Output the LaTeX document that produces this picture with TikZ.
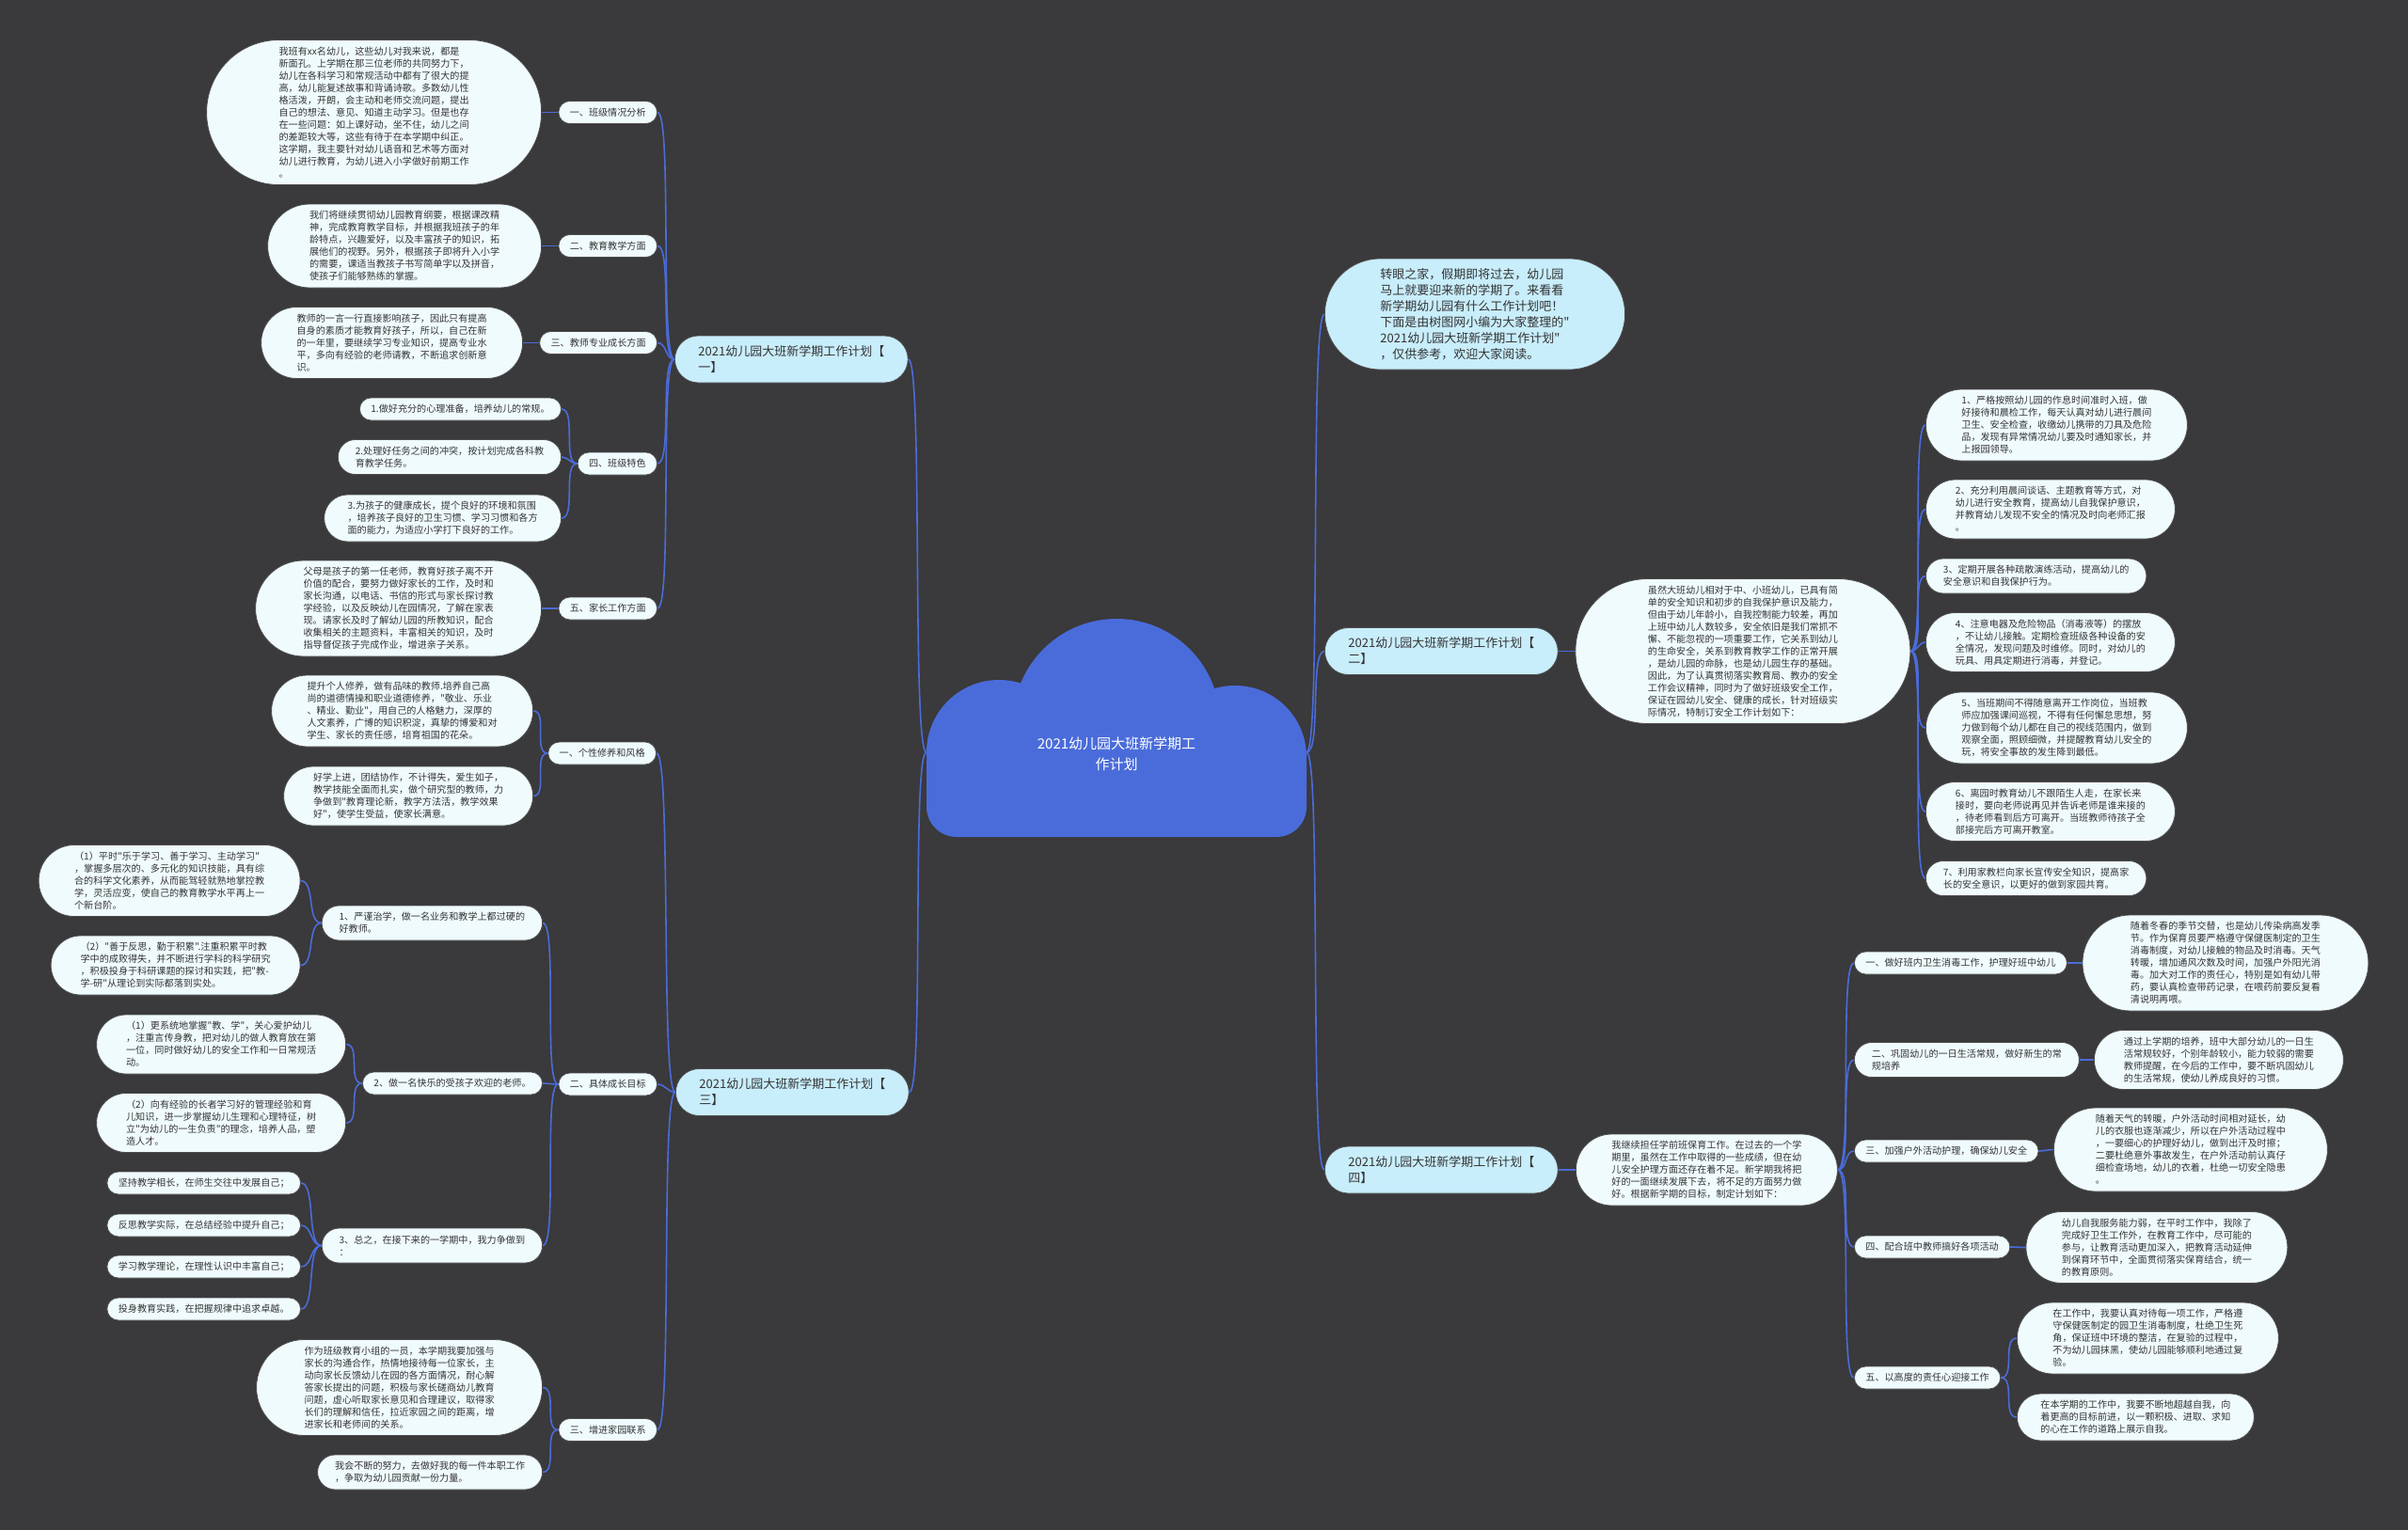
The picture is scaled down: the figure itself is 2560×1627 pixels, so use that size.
\documentclass[tikz,border=0pt]{standalone}
\usepackage{fontspec}
\newfontfamily\cjk{Noto Sans CJK SC}
\definecolor{bgdark}{HTML}{3A393B}
\definecolor{leafcol}{HTML}{F0FBFE}
\definecolor{headcol}{HTML}{C8EDFB}
\definecolor{linkblue}{HTML}{4A6CDA}
\definecolor{inkgray}{HTML}{333333}

\begin{document}
\begin{tikzpicture}[x=1pt,y=-1pt,
  % #1 = number of text lines
  leafbox/.style={rectangle, fill=leafcol, draw=black!70, line width=0.8pt,
    minimum height=13*#1+11, inner xsep=(13*#1+11)/2, inner ysep=0pt,
    rounded corners=(13*#1+11)/2, align=left, text=inkgray,
    font=\cjk\fontsize{10.1}{13}\selectfont},
  headbox/.style={rectangle, fill=headcol, draw=black!70, line width=0.8pt,
    minimum height=17*#1+16, inner xsep=(17*#1+16)/2, inner ysep=0pt,
    rounded corners=(17*#1+16)/2, align=left, text=inkgray,
    font=\cjk\fontsize{13}{17}\selectfont},
  lk/.style={draw=linkblue, line width=1.6pt},
  cl/.style={out=180, in=0, max distance=16pt},
  cr/.style={out=0, in=180, max distance=16pt}]
  \fill[bgdark] (0,0) rectangle (2560,1627);
  \useasboundingbox (0,0) rectangle (2560,1627);

  % root cloud
  \fill[linkblue] (1187,768) circle (110pt) (1062,800) circle (77pt) (1313,805) circle (76pt);
  \fill[linkblue, rounded corners=32pt] (985,780) rectangle (1389,890);
  \node[text=white, align=center, font=\cjk\fontsize{15}{22}\selectfont] (root) at (1187,802) {2021幼儿园大班新学期工\\作计划};
  \coordinate (rootL) at (985,800);
  \coordinate (rootR) at (1389,800);

  % plan one
  \node[headbox=2, anchor=west] (p1) at (717,382) {2021幼儿园大班新学期工作计划【\\一】};
  \node[leafbox=1, anchor=east] (a1) at (699,119.5) {一、班级情况分析};
  \node[leafbox=11, anchor=east] (a1x) at (576,119.5) {我班有xx名幼儿，这些幼儿对我来说，都是\\新面孔。上学期在那三位老师的共同努力下，\\幼儿在各科学习和常规活动中都有了很大的提\\高，幼儿能复述故事和背诵诗歌。多数幼儿性\\格活泼，开朗，会主动和老师交流问题，提出\\自己的想法、意见、知道主动学习。但是也存\\在一些问题：如上课好动，坐不住，幼儿之间\\的差距较大等，这些有待于在本学期中纠正。\\这学期，我主要针对幼儿语音和艺术等方面对\\幼儿进行教育，为幼儿进入小学做好前期工作\\。};
  \node[leafbox=1, anchor=east] (a2) at (699,261.5) {二、教育教学方面};
  \node[leafbox=6, anchor=east] (a2x) at (576,261.5) {我们将继续贯彻幼儿园教育纲要，根据课改精\\神，完成教育教学目标，并根据我班孩子的年\\龄特点，兴趣爱好，以及丰富孩子的知识，拓\\展他们的视野。另外，根据孩子即将升入小学\\的需要，课适当教孩子书写简单字以及拼音，\\使孩子们能够熟练的掌握。};
  \node[leafbox=1, anchor=east] (a3) at (699,364.5) {三、教师专业成长方面};
  \node[leafbox=5, anchor=east] (a3x) at (556,364.5) {教师的一言一行直接影响孩子，因此只有提高\\自身的素质才能教育好孩子，所以，自己在新\\的一年里，要继续学习专业知识，提高专业水\\平，多向有经验的老师请教，不断追求创新意\\识。};
  \node[leafbox=1, anchor=east] (a4) at (699,493) {四、班级特色};
  \node[leafbox=1, anchor=east] (a41) at (597,435) {1.做好充分的心理准备，培养幼儿的常规。};
  \node[leafbox=2, anchor=east] (a42) at (597,486) {2.处理好任务之间的冲突，按计划完成各科教\\育教学任务。};
  \node[leafbox=3, anchor=east] (a43) at (597,551) {3.为孩子的健康成长，提个良好的环境和氛围\\，培养孩子良好的卫生习惯、学习习惯和各方\\面的能力，为适应小学打下良好的工作。};
  \node[leafbox=1, anchor=east] (a5) at (699,647) {五、家长工作方面};
  \node[leafbox=7, anchor=east] (a5x) at (576,647) {父母是孩子的第一任老师，教育好孩子离不开\\价值的配合，要努力做好家长的工作，及时和\\家长沟通，以电话、书信的形式与家长探讨教\\学经验，以及反映幼儿在园情况，了解在家表\\现。请家长及时了解幼儿园的所教知识，配合\\收集相关的主题资料，丰富相关的知识，及时\\指导督促孩子完成作业，增进亲子关系。};

  % plan three
  \node[headbox=2, anchor=west] (p3) at (718,1161.5) {2021幼儿园大班新学期工作计划【\\三】};
  \node[leafbox=1, anchor=east] (b1) at (698,801) {一、个性修养和风格};
  \node[leafbox=5, anchor=east] (b11) at (567,756) {提升个人修养，做有品味的教师.培养自己高\\尚的道德情操和职业道德修养，"敬业、乐业\\、精业、勤业"，用自己的人格魅力，深厚的\\人文素养，广博的知识积淀，真挚的博爱和对\\学生、家长的责任感，培育祖国的花朵。};
  \node[leafbox=4, anchor=east] (b12) at (567,846.5) {好学上进，团结协作，不计得失，爱生如子，\\教学技能全面而扎实，做个研究型的教师，力\\争做到"教育理论新，教学方法活，教学效果\\好"，使学生受益，使家长满意。};
  \node[leafbox=1, anchor=east] (b2) at (699,1153) {二、具体成长目标};
  \node[leafbox=2, anchor=east] (b21) at (577,981.5) {1、严谨治学，做一名业务和教学上都过硬的\\好教师。};
  \node[leafbox=5, anchor=east] (b211) at (319.5,936.5) {（1）平时"乐于学习、善于学习、主动学习"\\，掌握多层次的、多元化的知识技能，具有综\\合的科学文化素养，从而能驾轻就熟地掌控教\\学，灵活应变，使自己的教育教学水平再上一\\个新台阶。};
  \node[leafbox=4, anchor=east] (b212) at (319.5,1026.5) {（2）"善于反思，勤于积累".注重积累平时教\\学中的成败得失，并不断进行学科的科学研究\\，积极投身于科研课题的探讨和实践，把"教-\\学-研"从理论到实际都落到实处。};
  \node[leafbox=1, anchor=east] (b22) at (577,1152) {2、做一名快乐的受孩子欢迎的老师。};
  \node[leafbox=4, anchor=east] (b221) at (368,1110.5) {（1）更系统地掌握"教、学"，关心爱护幼儿\\，注重言传身教，把对幼儿的做人教育放在第\\一位，同时做好幼儿的安全工作和一日常规活\\动。};
  \node[leafbox=4, anchor=east] (b222) at (368,1194) {（2）向有经验的长者学习好的管理经验和育\\儿知识，进一步掌握幼儿生理和心理特征，树\\立"为幼儿的一生负责"的理念，培养人品，塑\\造人才。};
  \node[leafbox=2, anchor=east] (b23) at (577,1324.5) {3、总之，在接下来的一学期中，我力争做到\\：};
  \node[leafbox=1, anchor=east] (b231) at (320,1258) {坚持教学相长，在师生交往中发展自己；};
  \node[leafbox=1, anchor=east] (b232) at (320,1303) {反思教学实际，在总结经验中提升自己；};
  \node[leafbox=1, anchor=east] (b233) at (320,1347) {学习教学理论，在理性认识中丰富自己；};
  \node[leafbox=1, anchor=east] (b234) at (320,1392) {投身教育实践，在把握规律中追求卓越。};
  \node[leafbox=1, anchor=east] (b3) at (699,1520.5) {三、增进家园联系};
  \node[leafbox=7, anchor=east] (b31) at (577,1475.5) {作为班级教育小组的一员，本学期我要加强与\\家长的沟通合作，热情地接待每一位家长，主\\动向家长反馈幼儿在园的各方面情况，耐心解\\答家长提出的问题，积极与家长磋商幼儿教育\\问题，虚心听取家长意见和合理建议，取得家\\长们的理解和信任，拉近家园之间的距离，增\\进家长和老师间的关系。};
  \node[leafbox=2, anchor=east] (b32) at (577,1565.5) {我会不断的努力，去做好我的每一件本职工作\\，争取为幼儿园贡献一份力量。};

  % intro
  \node[headbox=6, anchor=west] (i0) at (1408,334) {转眼之家，假期即将过去，幼儿园\\马上就要迎来新的学期了。来看看\\新学期幼儿园有什么工作计划吧！\\下面是由树图网小编为大家整理的"\\2021幼儿园大班新学期工作计划"\\，仅供参考，欢迎大家阅读。};

  % plan two
  \node[headbox=2, anchor=west] (p2) at (1408,692.5) {2021幼儿园大班新学期工作计划【\\二】};
  \node[leafbox=11, anchor=west] (c0) at (1674.5,692.5) {虽然大班幼儿相对于中、小班幼儿，已具有简\\单的安全知识和初步的自我保护意识及能力，\\但由于幼儿年龄小，自我控制能力较差，再加\\上班中幼儿人数较多，安全依旧是我们常抓不\\懈、不能忽视的一项重要工作，它关系到幼儿\\的生命安全，关系到教育教学工作的正常开展\\，是幼儿园的命脉，也是幼儿园生存的基础。\\因此，为了认真贯彻落实教育局、教办的安全\\工作会议精神，同时为了做好班级安全工作，\\保证在园幼儿安全、健康的成长，针对班级实\\际情况，特制订安全工作计划如下：};
  \node[leafbox=5, anchor=west] (c01) at (2047,452) {1、严格按照幼儿园的作息时间准时入班，做\\好接待和晨检工作，每天认真对幼儿进行晨间\\卫生、安全检查，收缴幼儿携带的刀具及危险\\品，发现有异常情况幼儿要及时通知家长，并\\上报园领导。};
  \node[leafbox=4, anchor=west] (c02) at (2047,541.5) {2、充分利用晨间谈话、主题教育等方式，对\\幼儿进行安全教育，提高幼儿自我保护意识，\\并教育幼儿发现不安全的情况及时向老师汇报\\。};
  \node[leafbox=2, anchor=west] (c03) at (2047,612.5) {3、定期开展各种疏散演练活动，提高幼儿的\\安全意识和自我保护行为。};
  \node[leafbox=4, anchor=west] (c04) at (2047,683) {4、注意电器及危险物品（消毒液等）的摆放\\，不让幼儿接触。定期检查班级各种设备的安\\全情况，发现问题及时维修。同时，对幼儿的\\玩具、用具定期进行消毒，并登记。};
  \node[leafbox=5, anchor=west] (c05) at (2047,774) {5、当班期间不得随意离开工作岗位，当班教\\师应加强课间巡视，不得有任何懈怠思想，努\\力做到每个幼儿都在自己的视线范围内，做到\\观察全面，照顾细微，并提醒教育幼儿安全的\\玩，将安全事故的发生降到最低。};
  \node[leafbox=4, anchor=west] (c06) at (2047,863) {6、离园时教育幼儿不跟陌生人走，在家长来\\接时，要向老师说再见并告诉老师是谁来接的\\，待老师看到后方可离开。当班教师待孩子全\\部接完后方可离开教室。};
  \node[leafbox=2, anchor=west] (c07) at (2047,934) {7、利用家教栏向家长宣传安全知识，提高家\\长的安全意识，以更好的做到家园共育。};

  % plan four
  \node[headbox=2, anchor=west] (p4) at (1408,1244) {2021幼儿园大班新学期工作计划【\\四】};
  \node[leafbox=5, anchor=west] (d0) at (1675,1244) {我继续担任学前班保育工作。在过去的一个学\\期里，虽然在工作中取得的一些成绩，但在幼\\儿安全护理方面还存在着不足。新学期我将把\\好的一面继续发展下去，将不足的方面努力做\\好。根据新学期的目标，制定计划如下：};
  \node[leafbox=1, anchor=west] (d1) at (1971,1024) {一、做好班内卫生消毒工作，护理好班中幼儿};
  \node[leafbox=7, anchor=west] (d1x) at (2213.5,1024) {随着冬春的季节交替，也是幼儿传染病高发季\\节。作为保育员要严格遵守保健医制定的卫生\\消毒制度，对幼儿接触的物品及时消毒。天气\\转暖，增加通风次数及时间，加强户外阳光消\\毒。加大对工作的责任心，特别是如有幼儿带\\药，要认真检查带药记录，在喂药前要反复看\\清说明再喂。};
  \node[leafbox=2, anchor=west] (d2) at (1971,1127) {二、巩固幼儿的一日生活常规，做好新生的常\\规培养};
  \node[leafbox=4, anchor=west] (d2x) at (2226,1127) {通过上学期的培养，班中大部分幼儿的一日生\\活常规较好，个别年龄较小，能力较弱的需要\\教师提醒，在今后的工作中，要不断巩固幼儿\\的生活常规，使幼儿养成良好的习惯。};
  \node[leafbox=1, anchor=west] (d3) at (1971,1224) {三、加强户外活动护理，确保幼儿安全};
  \node[leafbox=6, anchor=west] (d3x) at (2183,1222.5) {随着天气的转暖，户外活动时间相对延长，幼\\儿的衣服也逐渐减少，所以在户外活动过程中\\，一要细心的护理好幼儿，做到出汗及时擦；\\二要杜绝意外事故发生，在户外活动前认真仔\\细检查场地，幼儿的衣着，杜绝一切安全隐患\\。};
  \node[leafbox=1, anchor=west] (d4) at (1971,1326) {四、配合班中教师搞好各项活动};
  \node[leafbox=5, anchor=west] (d4x) at (2153.5,1326.5) {幼儿自我服务能力弱，在平时工作中，我除了\\完成好卫生工作外，在教育工作中，尽可能的\\参与，让教育活动更加深入，把教育活动延伸\\到保育环节中，全面贯彻落实保育结合，统一\\的教育原则。};
  \node[leafbox=1, anchor=west] (d5) at (1971,1465) {五、以高度的责任心迎接工作};
  \node[leafbox=5, anchor=west] (d51) at (2144,1423) {在工作中，我要认真对待每一项工作，严格遵\\守保健医制定的园卫生消毒制度，杜绝卫生死\\角，保证班中环境的整洁，在复验的过程中，\\不为幼儿园抹黑，使幼儿园能够顺利地通过复\\验。};
  \node[leafbox=3, anchor=west] (d52) at (2144,1507) {在本学期的工作中，我要不断地超越自我，向\\着更高的目标前进，以一颗积极、进取、求知\\的心在工作的道路上展示自我。};

  % connectors
  \draw[lk] (rootL) to[cl] (p1.east);
  \draw[lk] (rootL) to[cl] (p3.east);
  \draw[lk] (rootR) to[cr] (i0.west);
  \draw[lk] (rootR) to[cr] (p2.west);
  \draw[lk] (rootR) to[cr] (p4.west);

  \draw[lk] (p1.west) to[cl] (a1.east);
  \draw[lk] (p1.west) to[cl] (a2.east);
  \draw[lk] (p1.west) to[cl] (a3.east);
  \draw[lk] (p1.west) to[cl] (a4.east);
  \draw[lk] (p1.west) to[cl] (a5.east);
  \draw[lk] (a1.west) to[cl] (a1x.east);
  \draw[lk] (a2.west) to[cl] (a2x.east);
  \draw[lk] (a3.west) to[cl] (a3x.east);
  \draw[lk] (a4.west) to[cl] (a41.east);
  \draw[lk] (a4.west) to[cl] (a42.east);
  \draw[lk] (a4.west) to[cl] (a43.east);
  \draw[lk] (a5.west) to[cl] (a5x.east);

  \draw[lk] (p3.west) to[cl] (b1.east);
  \draw[lk] (p3.west) to[cl] (b2.east);
  \draw[lk] (p3.west) to[cl] (b3.east);
  \draw[lk] (b1.west) to[cl] (b11.east);
  \draw[lk] (b1.west) to[cl] (b12.east);
  \draw[lk] (b2.west) to[cl] (b21.east);
  \draw[lk] (b2.west) to[cl] (b22.east);
  \draw[lk] (b2.west) to[cl] (b23.east);
  \draw[lk] (b21.west) to[cl] (b211.east);
  \draw[lk] (b21.west) to[cl] (b212.east);
  \draw[lk] (b22.west) to[cl] (b221.east);
  \draw[lk] (b22.west) to[cl] (b222.east);
  \draw[lk] (b23.west) to[cl] (b231.east);
  \draw[lk] (b23.west) to[cl] (b232.east);
  \draw[lk] (b23.west) to[cl] (b233.east);
  \draw[lk] (b23.west) to[cl] (b234.east);
  \draw[lk] (b3.west) to[cl] (b31.east);
  \draw[lk] (b3.west) to[cl] (b32.east);

  \draw[lk] (p2.east) to[cr] (c0.west);
  \draw[lk] (c0.east) to[cr] (c01.west);
  \draw[lk] (c0.east) to[cr] (c02.west);
  \draw[lk] (c0.east) to[cr] (c03.west);
  \draw[lk] (c0.east) to[cr] (c04.west);
  \draw[lk] (c0.east) to[cr] (c05.west);
  \draw[lk] (c0.east) to[cr] (c06.west);
  \draw[lk] (c0.east) to[cr] (c07.west);

  \draw[lk] (p4.east) to[cr] (d0.west);
  \draw[lk] (d0.east) to[cr] (d1.west);
  \draw[lk] (d0.east) to[cr] (d2.west);
  \draw[lk] (d0.east) to[cr] (d3.west);
  \draw[lk] (d0.east) to[cr] (d4.west);
  \draw[lk] (d0.east) to[cr] (d5.west);
  \draw[lk] (d1.east) to[cr] (d1x.west);
  \draw[lk] (d2.east) to[cr] (d2x.west);
  \draw[lk] (d3.east) to[cr] (d3x.west);
  \draw[lk] (d4.east) to[cr] (d4x.west);
  \draw[lk] (d5.east) to[cr] (d51.west);
  \draw[lk] (d5.east) to[cr] (d52.west);
\end{tikzpicture}
\end{document}
